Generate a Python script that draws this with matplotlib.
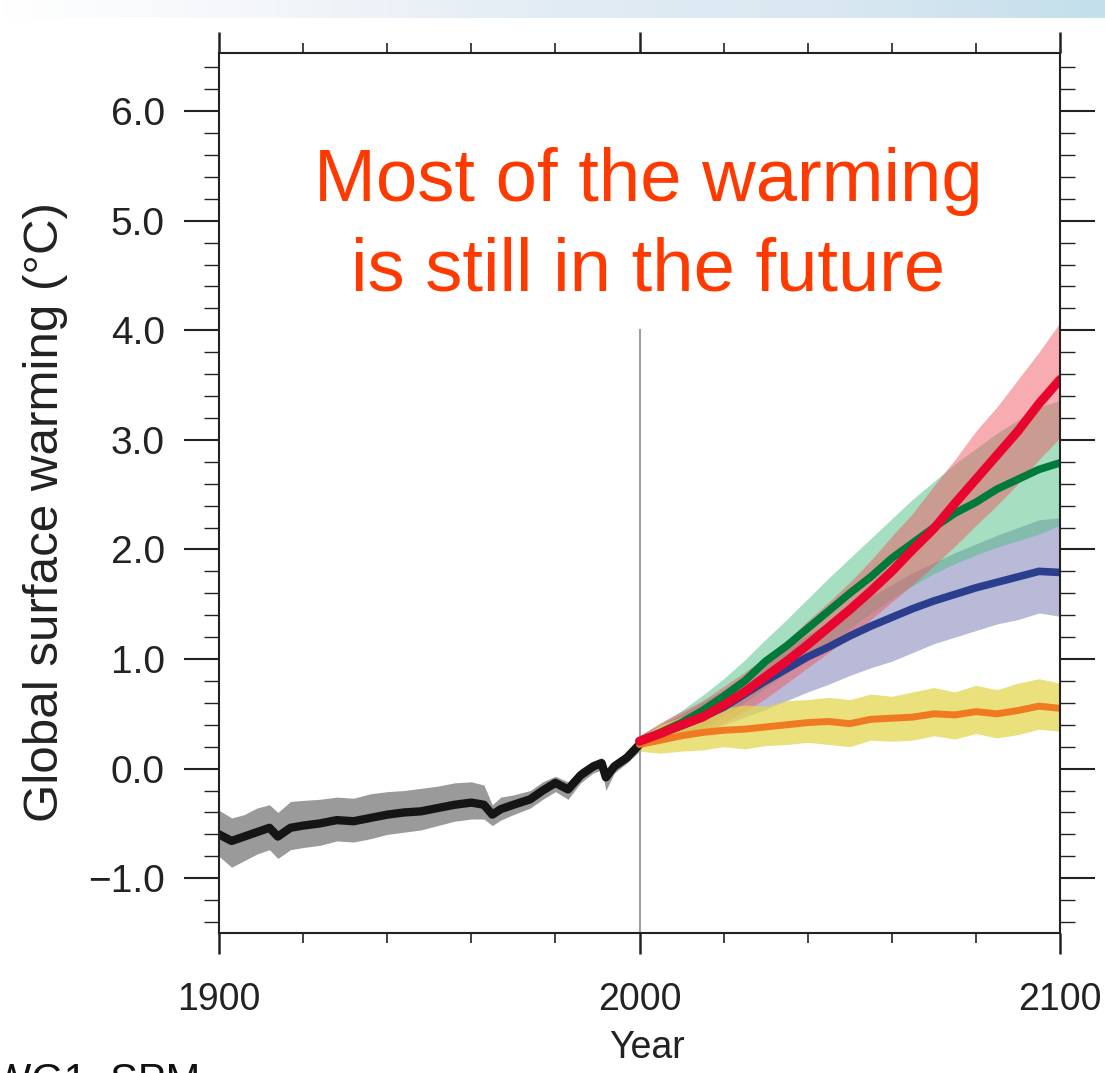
import numpy as np
import matplotlib
matplotlib.use("Agg")
import matplotlib.pyplot as plt
from matplotlib.ticker import MultipleLocator, FuncFormatter
from matplotlib.colors import LinearSegmentedColormap

plt.rcParams['font.family'] = ['Liberation Sans', 'DejaVu Sans']

# observed / 20th century simulation
hist_years = [1900, 1903, 1906, 1909, 1912, 1914, 1917, 1920, 1924, 1928, 1932, 1936, 1940,
              1944, 1948, 1952, 1956, 1960, 1963, 1965, 1967, 1970, 1974, 1977, 1980, 1983,
              1986, 1989, 1991, 1992, 1994, 1997, 2000]
hist_mean = [-0.60, -0.66, -0.62, -0.58, -0.54, -0.62, -0.54, -0.52, -0.50, -0.47, -0.48, -0.45, -0.42,
             -0.40, -0.39, -0.36, -0.33, -0.31, -0.33, -0.42, -0.37, -0.33, -0.28, -0.20, -0.13, -0.19,
             -0.06, 0.02, 0.05, -0.08, 0.02, 0.10, 0.22]
hist_upper = [-0.38, -0.45, -0.42, -0.36, -0.33, -0.40, -0.30, -0.29, -0.28, -0.26, -0.27, -0.23, -0.21,
              -0.20, -0.18, -0.16, -0.13, -0.12, -0.15, -0.33, -0.26, -0.24, -0.20, -0.12, -0.07, -0.12,
              0.00, 0.07, 0.10, -0.02, 0.07, 0.14, 0.26]
hist_lower = [-0.80, -0.90, -0.84, -0.78, -0.74, -0.82, -0.74, -0.72, -0.70, -0.66, -0.67, -0.64, -0.60,
              -0.58, -0.56, -0.52, -0.48, -0.46, -0.46, -0.52, -0.47, -0.42, -0.36, -0.28, -0.21, -0.28,
              -0.13, -0.04, -0.01, -0.20, -0.04, 0.05, 0.16]

# scenario projections
proj_years = [2000, 2005, 2010, 2015, 2020, 2025, 2030, 2035, 2040, 2045, 2050,
              2055, 2060, 2065, 2070, 2075, 2080, 2085, 2090, 2095, 2100]

red_mean = [0.25, 0.32, 0.40, 0.47, 0.58, 0.70, 0.84, 0.98, 1.13, 1.29, 1.45,
            1.62, 1.80, 2.00, 2.19, 2.42, 2.64, 2.86, 3.08, 3.33, 3.55]
red_upper = [0.30, 0.42, 0.52, 0.62, 0.75, 0.88, 1.02, 1.17, 1.35, 1.52, 1.70,
             1.90, 2.12, 2.33, 2.58, 2.82, 3.08, 3.30, 3.55, 3.80, 4.07]
red_lower = [0.20, 0.24, 0.30, 0.34, 0.42, 0.52, 0.64, 0.78, 0.92, 1.06, 1.20,
             1.36, 1.52, 1.68, 1.85, 2.03, 2.22, 2.40, 2.60, 2.82, 3.02]

green_mean = [0.25, 0.33, 0.42, 0.53, 0.66, 0.80, 0.98, 1.12, 1.28, 1.44, 1.60,
              1.75, 1.92, 2.06, 2.20, 2.33, 2.43, 2.55, 2.64, 2.73, 2.79]
green_upper = [0.30, 0.41, 0.53, 0.67, 0.82, 0.99, 1.18, 1.36, 1.55, 1.74, 1.92,
               2.10, 2.28, 2.46, 2.62, 2.78, 2.92, 3.06, 3.18, 3.30, 3.36]
green_lower = [0.20, 0.25, 0.31, 0.38, 0.48, 0.60, 0.74, 0.87, 1.00, 1.14, 1.28,
               1.42, 1.55, 1.67, 1.78, 1.87, 1.95, 2.02, 2.08, 2.14, 2.22]

blue_mean = [0.25, 0.32, 0.39, 0.47, 0.56, 0.68, 0.80, 0.91, 1.02, 1.11, 1.21,
             1.30, 1.38, 1.46, 1.53, 1.59, 1.65, 1.70, 1.75, 1.80, 1.79]
blue_upper = [0.30, 0.40, 0.50, 0.61, 0.72, 0.85, 0.98, 1.10, 1.22, 1.34, 1.46,
              1.57, 1.68, 1.79, 1.88, 1.97, 2.05, 2.13, 2.20, 2.27, 2.29]
blue_lower = [0.20, 0.23, 0.28, 0.33, 0.40, 0.47, 0.54, 0.62, 0.70, 0.77, 0.85,
              0.92, 0.98, 1.06, 1.14, 1.20, 1.26, 1.32, 1.36, 1.42, 1.39]

orange_mean = [0.22, 0.26, 0.30, 0.33, 0.35, 0.36, 0.38, 0.40, 0.42, 0.43, 0.41,
               0.45, 0.46, 0.47, 0.50, 0.49, 0.52, 0.50, 0.53, 0.57, 0.55]
orange_upper = [0.28, 0.40, 0.47, 0.52, 0.55, 0.58, 0.57, 0.62, 0.63, 0.65, 0.63,
                0.68, 0.66, 0.70, 0.74, 0.70, 0.76, 0.72, 0.78, 0.82, 0.78]
orange_lower = [0.16, 0.14, 0.16, 0.17, 0.20, 0.18, 0.21, 0.22, 0.24, 0.22, 0.20,
                0.26, 0.25, 0.26, 0.30, 0.27, 0.32, 0.28, 0.31, 0.36, 0.34]

fig = plt.figure(figsize=(11.05, 10.73), dpi=100)

# slide background strip at the top
bg = fig.add_axes([0, 1 - 18 / 1073, 1, 18 / 1073])
grad = np.linspace(0, 1, 256)[None, :]
cm = LinearSegmentedColormap.from_list('bg', ['#ffffff', '#f3f6fa', '#e2ecf4', '#dae8f1', '#c3dfec'])
bg.imshow(grad, aspect='auto', cmap=cm, extent=[0, 1, 0, 1])
bg.axis('off')

ax = fig.add_axes([219 / 1105, (1073 - 933) / 1073, 841 / 1105, 880 / 1073])

ax.fill_between(hist_years, hist_lower, hist_upper, color='#9a9a9a', lw=0)
ax.fill_between(proj_years, blue_lower, blue_upper, color='#7f82b6', alpha=0.55, lw=0)
ax.fill_between(proj_years, green_lower, green_upper, color='#4fbf85', alpha=0.5, lw=0)
ax.fill_between(proj_years, red_lower, red_upper, color='#ee5a62', alpha=0.5, lw=0)
ax.fill_between(proj_years, orange_lower, orange_upper, color='#e3d650', alpha=0.75, lw=0)

ax.plot([2000, 2000], [-1.5, 4.0], color='#a0a0a0', lw=1.5, zorder=1)

ax.plot(hist_years, hist_mean, color='#151515', lw=6, solid_capstyle='round')
ax.plot(proj_years, orange_mean, color='#f07a22', lw=5, solid_capstyle='round')
ax.plot(proj_years, blue_mean, color='#2b3e8e', lw=5.5, solid_capstyle='round')
ax.plot(proj_years, green_mean, color='#007a3a', lw=5.5, solid_capstyle='round')
ax.plot(proj_years, red_mean, color='#e8062e', lw=6.5, solid_capstyle='round')

ax.set_xlim(1900, 2100)
ax.set_ylim(-1.5, 6.53)

ax.xaxis.set_major_locator(MultipleLocator(100))
ax.xaxis.set_minor_locator(MultipleLocator(20))
ax.yaxis.set_major_locator(MultipleLocator(1))
ax.yaxis.set_minor_locator(MultipleLocator(0.2))
ax.yaxis.set_major_formatter(FuncFormatter(lambda v, p: f"{v:.1f}".replace('-', '\u2212')))

ax.tick_params(which='both', direction='out', top=True, right=True, colors='#222222')
ax.tick_params(axis='x', which='major', length=15, width=1.8, pad=20, labelsize=27)
ax.tick_params(axis='x', which='minor', length=7, width=1.2)
ax.tick_params(axis='y', which='major', length=25, width=1.5, pad=14, labelsize=28)
ax.tick_params(axis='y', which='minor', length=11, width=1.0)
for s in ax.spines.values():
    s.set_linewidth(1.5)
    s.set_color('#222222')

fig.text(46 / 1105, 1 - 512 / 1073, 'Global surface warming (\u00b0C)', rotation=90,
         ha='center', va='center', fontsize=35.5, color='#222222')
fig.text(647 / 1105, 1 - 1048 / 1073, 'Year', ha='center', va='center', fontsize=27, color='#222222')
fig.text(-8 / 1105, 1 - 1062 / 1073, 'WG1, SPM', ha='left', va='top', fontsize=30, color='#111111')

ax.text(2002, 5.18, 'Most of the warming', ha='center', va='baseline', fontsize=53.5, color='#ff3a00')
ax.text(2002, 4.36, 'is still in the future', ha='center', va='baseline', fontsize=53.5, color='#ff3a00')

fig.savefig('out.png', dpi=100)
